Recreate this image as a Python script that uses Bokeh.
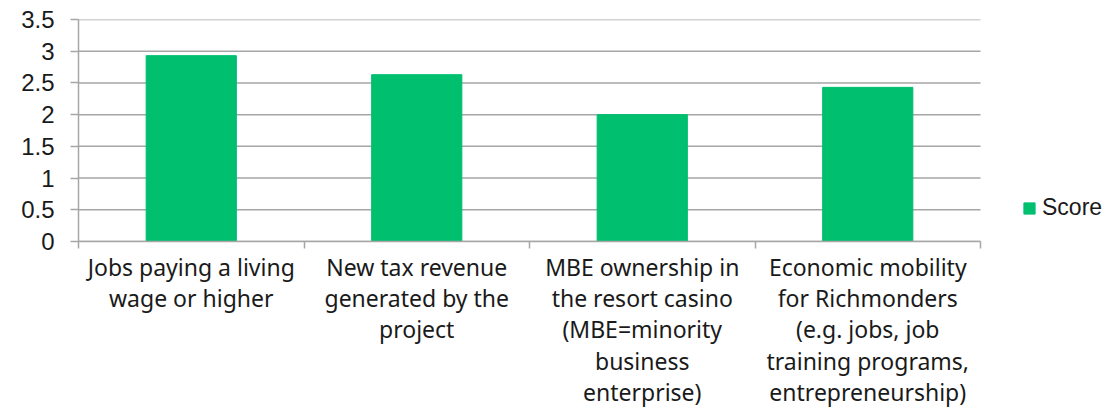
from bokeh.plotting import figure
from bokeh.models import Range1d, FixedTicker, NumeralTickFormatter, ColumnDataSource
from bokeh.embed import file_html
from bokeh.resources import INLINE

categories = [
    "Jobs paying a living\nwage or higher",
    "New tax revenue\ngenerated by the\nproject",
    "MBE ownership in\nthe resort casino\n(MBE=minority\nbusiness\nenterprise)",
    "Economic mobility\nfor Richmonders\n(e.g. jobs, job\ntraining programs,\nentrepreneurship)",
]
scores = [2.93, 2.63, 2.0, 2.43]
series_name = "Score"
y_ticks = [0, 0.5, 1, 1.5, 2, 2.5, 3, 3.5]

n = len(categories)
positions = [i + 0.5 for i in range(n)]
src = ColumnDataSource(dict(x=positions, top=scores))

# frame spans to the right edge so the legend can sit inside it
x_end = n * 1029 / 902

p = figure(width=1107, height=410, output_backend="svg", toolbar_location=None,
           x_range=Range1d(0, x_end), y_range=Range1d(0, 3.5),
           min_border_left=78, min_border_right=0, min_border_top=19, min_border_bottom=169)
p.outline_line_color = None
p.background_fill_color = "white"

gray = "#A6A6A6"
p.xgrid.visible = False
p.ygrid.visible = False
# horizontal gridlines limited to the category area
p.segment(x0=[0] * len(y_ticks), x1=[n] * len(y_ticks), y0=y_ticks, y1=y_ticks,
          line_color=gray, line_width=1.5, level="underlay")

p.vbar(x="x", top="top", width=0.4, source=src, color="#00BF6F", legend_label=series_name)

# y axis
p.yaxis.ticker = FixedTicker(ticks=y_ticks)
p.yaxis.formatter = NumeralTickFormatter(format="0.[0]")
p.yaxis.axis_line_color = gray
p.yaxis.axis_line_width = 1.5
p.yaxis.major_tick_line_color = gray
p.yaxis.major_tick_line_width = 1.5
p.yaxis.major_tick_out = 8
p.yaxis.major_tick_in = 0
p.yaxis.minor_tick_line_color = None
p.yaxis.major_label_text_font = "Liberation Sans"
p.yaxis.major_label_text_font_size = "24px"
p.yaxis.major_label_text_color = "#1a1a1a"
p.yaxis.major_label_standoff = 16

# x axis
p.xaxis.ticker = FixedTicker(ticks=positions, minor_ticks=list(range(n + 1)))
p.xaxis.bounds = (0, n)
p.xaxis.major_label_overrides = {pos: c for pos, c in zip(positions, categories)}
p.xaxis.axis_line_color = gray
p.xaxis.axis_line_width = 1.5
p.xaxis.major_tick_line_color = None
p.xaxis.major_tick_out = 7
p.xaxis.major_tick_in = 0
p.xaxis.minor_tick_line_color = gray
p.xaxis.minor_tick_line_width = 1.5
p.xaxis.minor_tick_out = 7
p.xaxis.minor_tick_in = 0
p.xaxis.major_label_text_font = "Noto Sans"
p.xaxis.major_label_text_font_size = "23px"
p.xaxis.major_label_text_color = "#1a1a1a"
p.xaxis.major_label_text_line_height = 0.98
p.xaxis.major_label_standoff = 2

lg = p.legend[0]
lg.location = (944, 20)
lg.margin = 0
lg.padding = 0
lg.border_line_color = None
lg.background_fill_alpha = 0
lg.glyph_width = 14
lg.glyph_height = 14
lg.label_text_font = "Liberation Sans"
lg.label_text_font_size = "23px"
lg.label_text_color = "#1a1a1a"
lg.label_standoff = 6

open("out.html", "w").write(file_html(p, INLINE))
